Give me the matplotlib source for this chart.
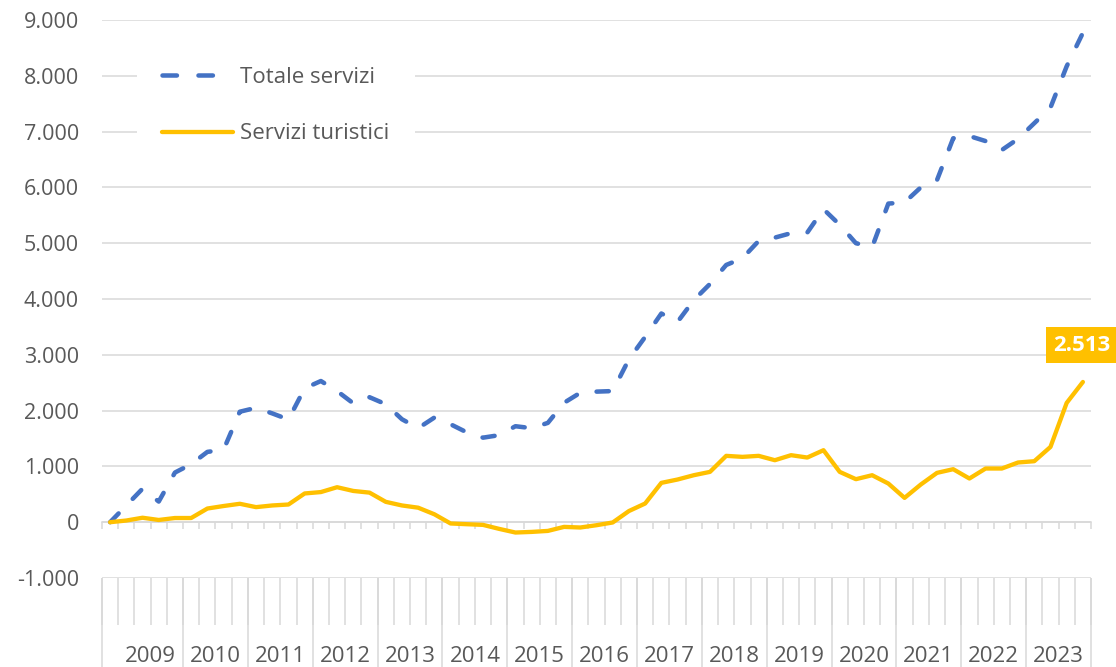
import numpy as np
import matplotlib
matplotlib.use("Agg")
import matplotlib.pyplot as plt
from matplotlib.ticker import FuncFormatter

# ---- data (cumulative change vs 2008-Q4) ----
years = list(range(2009, 2024))
periods = ["2008-T4"] + [f"{y}-T{q}" for y in years for q in range(1, 5)]

totale_servizi = [
    0, 300, 600, 370, 890, 1040, 1260, 1300, 1980, 2050, 1950, 1840,
    2400, 2530, 2350, 2130, 2240, 2115, 1845, 1685, 1875, 1755, 1610, 1515,
    1560, 1720, 1685, 1780, 2140, 2320, 2340, 2350, 2920, 3320, 3740, 3590,
    3980, 4270, 4610, 4730, 5040, 5100, 5180, 5190, 5610, 5330, 5000, 4930,
    5710, 5730, 6000, 6130, 6880, 6920, 6830, 6670, 6870, 7150, 7430, 8170,
    8770,
]
servizi_turistici = [
    0, 30, 80, 40, 75, 75, 245, 290, 330, 270, 300, 317,
    515, 540, 627, 560, 530, 365, 300, 260, 142, -23, -36, -48,
    -120, -185, -174, -156, -84, -95, -54, -5, 200, 335, 705, 765,
    842, 902, 1189, 1171, 1189, 1111, 1201, 1159, 1290, 902, 771, 842,
    693, 436, 675, 884, 950, 783, 962, 962, 1070, 1093, 1349, 2138,
    2513,
]
series_names = ["Totale servizi", "Servizi turistici"]
y_ticks = list(range(-1000, 10000, 1000))
last_label = "2.513"

plt.rcParams['font.family'] = ['Open Sans', 'DejaVu Sans']
plt.rcParams['lines.scale_dashes'] = False

W, H = 1116, 667
fig = plt.figure(figsize=(W / 100, H / 100), dpi=100)
ax_left, ax_right, ax_top, ax_bottom = 102, 1091, 20, 578
ax = fig.add_axes([ax_left / W, (H - ax_bottom) / H,
                   (ax_right - ax_left) / W, (ax_bottom - ax_top) / H])
ax_h = ax_bottom - ax_top

x = np.arange(len(periods))
BLUE, ORANGE, GRID, TXT = '#4472C4', '#FFC000', '#D9D9D9', '#595959'
FS = 15.5

ax.plot(x, totale_servizi, color=BLUE, lw=3.25, dashes=(8.8, 14.6),
        dash_capstyle='round', dash_joinstyle='round',
        label=series_names[0], zorder=3)
ax.plot(x, servizi_turistici, color=ORANGE, lw=3.1,
        solid_capstyle='round', solid_joinstyle='round',
        label=series_names[1], zorder=4)

ax.set_xlim(-0.5, len(x) - 0.5)
ax.set_ylim(y_ticks[0], y_ticks[-1])
ax.set_yticks(y_ticks)
ax.yaxis.set_major_formatter(
    FuncFormatter(lambda v, p: f"{v:,.0f}".replace(",", ".")))
ax.grid(axis='y', color=GRID, lw=1.1)
ax.set_axisbelow(True)
for s in ['top', 'right', 'left']:
    ax.spines[s].set_visible(False)
ax.spines['bottom'].set_position(('data', 0))
ax.spines['bottom'].set_color(GRID)
ax.spines['bottom'].set_linewidth(1.1)

bounds = np.arange(-0.5, len(x))
ax.set_xticks(bounds)
ax.tick_params(axis='x', length=5, width=1.1, color=GRID, labelbottom=False)
ax.tick_params(axis='y', length=0, pad=16.5, labelsize=FS, labelcolor=TXT)

# ---- multi-level category area below the plot ----
trans = ax.get_xaxis_transform()
ax.vlines(bounds, -47 / ax_h, 0, transform=trans, clip_on=False,
          color=GRID, lw=1.1)
year_of = [int(p[:4]) for p in periods]
year_bounds = [-0.5]
for i in range(1, len(periods)):
    if year_of[i] != year_of[i - 1] and year_of[i - 1] != 2008:
        year_bounds.append(i - 0.5)
year_bounds.append(len(periods) - 0.5)
ax.vlines(year_bounds, -(H - ax_bottom) / ax_h, 0, transform=trans,
          clip_on=False, color=GRID, lw=1.1)
for y in years:
    idx = [i for i, yy in enumerate(year_of) if yy == y]
    ax.text(np.mean(idx), -(656 - ax_bottom) / ax_h, str(y), transform=trans,
            ha='center', va='center', fontsize=FS + 0.5, color=TXT)

# ---- legend ----
leg = ax.legend(loc='upper left', bbox_to_anchor=(0.035, 0.962),
                frameon=True, facecolor='white', edgecolor='none',
                framealpha=1, fancybox=False, fontsize=FS + 0.5, labelcolor=TXT,
                handlelength=3.2, handletextpad=0.3, labelspacing=1.6,
                borderpad=1.15, borderaxespad=0)
leg.get_lines()[0].set_dashes((10.4, 15.5))

# ---- data label ----
ax.annotate(last_label, xy=(x[-1], servizi_turistici[-1]),
            xytext=(-1, 26.5), textcoords='offset points',
            ha='center', va='center', color='white', fontweight='bold',
            fontsize=FS + 0.5, annotation_clip=False, zorder=6,
            bbox=dict(boxstyle='square,pad=0.33', fc=ORANGE, ec='none'))

fig.savefig('out.png', dpi=100)
